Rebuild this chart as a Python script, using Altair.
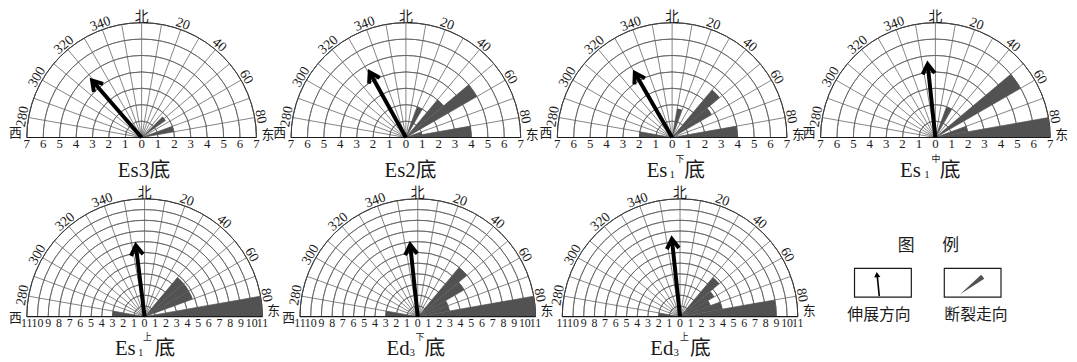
import altair as alt
import pandas as pd

# ---------------- data ----------------
panel_main = ["Es3", "Es2", "Es", "Es", "Es", "Ed", "Ed"]
panel_sub = ["", "", "1", "1", "1", "3", "3"]
panel_sup = ["", "", "下", "中", "上", "下", "上"]
panel_suffix = ["底", "底", "底", "底", "底", "底", "底"]
max_radius = [7, 7, 7, 7, 11, 11, 11]

# extension direction (azimuth, length in scale units)
arrow_az = [319, 331, 330, 354, 353, 354, 354]
arrow_len = [4.6, 4.55, 4.55, 4.5, 6.7, 6.75, 7.3]

# fault strike rose petals: start azimuth of each 10-degree bin and its count
BIN = 10
petal_az = [
    [45, 70],
    [20, 40, 50, 70, 80],
    [270, 10, 40, 50, 80],
    [20, 50, 70, 80],
    [270, 40, 50, 60, 80],
    [270, 40, 50, 60, 70, 80],
    [270, 40, 50, 60, 70, 80],
]
petal_len = [
    [1.8, 2.0],
    [2.0, 3.0, 5.0, 1.0, 4.0],
    [2.0, 1.8, 3.8, 2.8, 4.0],
    [2.0, 6.0, 2.0, 7.0],
    [3.0, 4.8, 4.8, 4.8, 11.0],
    [3.0, 6.0, 5.0, 3.0, 3.0, 11.0],
    [2.0, 4.8, 3.7, 3.0, 4.0, 9.0],
]

direction_az = [280, 300, 320, 340, 0, 20, 40, 60, 80]
direction_label = ["280", "300", "320", "340", "北", "20", "40", "60", "80"]
side_label = ["西", "东"]
# side labels visible in each panel (the 西 of the last panel is hidden under the 东 of its neighbour)
side_shown = [[1, 1], [1, 1], [1, 1], [1, 1], [1, 1], [1, 1], [0, 1]]
legend_title = ["图", "例"]
legend_label = ["伸展方向", "断裂走向"]

# ---------------- style / layout ----------------
SERIF = "Liberation Serif, Noto Sans CJK SC"
CJK = "Noto Sans CJK SC"
GRID = "#5c5c5c"
PETAL = "#525252"
INK = "#1a1a1a"
HEAD = "M -0.6 0.96 L 0 0 L 0.6 0.96"

TITLE_DX = [
    [-24, 8], [-21.5, 10],
    [-25.7, -2.7, 3.3, 12.3], [-35.7, -11.3, -4, 4.3],
    [-30, -6.7, -1.7, 10], [-31.6, -8.3, -2.3, 6.7], [-30, -6.7, 0, 10],
]

EDGES = [0, 265, 533, 800, 1068]
ROWS = [
    dict(panels=[0, 1, 2, 3], centers=[131, 398, 667, 933],
         H=176, base=129, rpx=116, tick_fs=13, title_y=169, side_up=[5, 2], legend=False),
    dict(panels=[4, 5, 6], centers=[134, 410, 675],
         H=178, base=134, rpx=119, tick_fs=12, title_y=173, side_up=[-1, 6], legend=True),
]


def panel(i, W, cx, H, base, rpx, tick_fs, title_y, side_up):
    R = max_radius[i]
    u = rpx / R
    xs = alt.Scale(domain=[-cx / u, (W - cx) / u], nice=False, zero=False)
    ys = alt.Scale(domain=[-(H - base) / u, base / u], nice=False, zero=False)
    rs = alt.Scale(type="linear", domain=[0, R], range=[0, rpx], zero=True)

    def X(f):
        return alt.X(f, type="quantitative", scale=xs, axis=None)

    def Y(f):
        return alt.Y(f, type="quantitative", scale=ys, axis=None)

    cX = alt.XDatum(0, type="quantitative", scale=xs, axis=None)
    cY = alt.YDatum(0, type="quantitative", scale=ys, axis=None)

    rings = alt.Chart(pd.DataFrame({"r": list(range(1, R))})).transform_calculate(
        t0="1.5*PI", t1="2.5*PI"
    ).mark_arc(filled=False, stroke=GRID, strokeWidth=0.75).encode(
        x=cX, y=cY,
        theta=alt.Theta("t0:Q", scale=None, stack=False), theta2=alt.Theta2("t1"),
        radius=alt.Radius("r:Q", scale=rs), radius2=alt.Radius2("r"),
    )
    outer = alt.Chart(pd.DataFrame({"r": [R]})).transform_calculate(
        t0="1.5*PI", t1="2.5*PI"
    ).mark_arc(filled=False, stroke="#3e3e3e", strokeWidth=1.0).encode(
        x=cX, y=cY,
        theta=alt.Theta("t0:Q", scale=None, stack=False), theta2=alt.Theta2("t1"),
        radius=alt.Radius("r:Q", scale=rs), radius2=alt.Radius2("r"),
    )
    spokes = alt.Chart(pd.DataFrame({"a": list(range(-80, 90, 10))})).transform_calculate(
        x0="0", y0="0",
        x1=f"{R}*sin(datum.a*PI/180)", y1=f"{R}*cos(datum.a*PI/180)",
    ).mark_rule(stroke=GRID, strokeWidth=0.75).encode(
        x=X("x0"), y=Y("y0"), x2=alt.X2("x1"), y2=alt.Y2("y1")
    )
    base_line = alt.Chart(pd.DataFrame({"a": [-R], "b": [R], "y": [0]})).mark_rule(
        stroke=INK, strokeWidth=1.1
    ).encode(x=X("a"), x2=alt.X2("b"), y=Y("y"))

    petals = alt.Chart(pd.DataFrame({"az": petal_az[i], "n": petal_len[i]})).transform_calculate(
        t0="datum.az*PI/180", t1=f"(datum.az+{BIN})*PI/180"
    ).mark_arc(color=PETAL).encode(
        x=cX, y=cY,
        theta=alt.Theta("t0:Q", scale=None, stack=False), theta2=alt.Theta2("t1"),
        radius=alt.Radius("n:Q", scale=rs),
    )

    arr = alt.Chart(pd.DataFrame({"az": [arrow_az[i]], "n": [arrow_len[i]]})).transform_calculate(
        x0="0", y0="0",
        tx="datum.n*sin(datum.az*PI/180)", ty="datum.n*cos(datum.az*PI/180)",
    )
    shaft = arr.mark_rule(color="black", strokeWidth=4).encode(
        x=X("x0"), y=Y("y0"), x2=alt.X2("tx"), y2=alt.Y2("ty")
    )
    head = arr.mark_point(
        shape=HEAD, size=420, filled=False, stroke="black", strokeWidth=4,
        opacity=1, strokeJoin="miter",
    ).encode(x=X("tx"), y=Y("ty"), angle=alt.Angle("az:Q", scale=None))

    rl = R + 2.0 / u
    dirs = alt.Chart(pd.DataFrame({"az": direction_az, "t": direction_label})).transform_calculate(
        lx=f"{rl}*sin(datum.az*PI/180)", ly=f"{rl}*cos(datum.az*PI/180)"
    ).mark_text(font=SERIF, fontSize=14, baseline="alphabetic", align="center", color=INK).encode(
        x=X("lx"), y=Y("ly"), text="t:N", angle=alt.Angle("az:Q", scale=None)
    )

    ticks = alt.Chart(pd.DataFrame({"k": list(range(-R, R + 1))})).transform_calculate(
        lab="toString(abs(datum.k))", y0="0"
    ).mark_text(font=SERIF, fontSize=tick_fs, baseline="top", align="center", dy=1, color=INK).encode(
        x=X("k"), y=Y("y0"), text="lab:N"
    )

    sdf = pd.DataFrame({"t": side_label, "s": [-1, 1], "up": side_up, "show": side_shown[i]})
    sides = alt.Chart(sdf).transform_filter("datum.show == 1").transform_calculate(
        sx=f"datum.s*({R}+{11.5 / u})", sy=f"datum.up/{u}"
    ).mark_text(font=CJK, fontSize=13, baseline="middle", align="center", color=INK).encode(
        x=X("sx"), y=Y("sy"), text="t:N"
    )

    parts = [(panel_main[i], 21, 0), (panel_sub[i], 11, -1), (panel_sup[i], 9, 15), (panel_suffix[i], 21, 0)]
    parts = [p for p in parts if p[0]]
    tdf = pd.DataFrame({
        "t": [p[0] for p in parts],
        "fs": [p[1] for p in parts],
        "up": [p[2] for p in parts],
        "dx": TITLE_DX[i],
    })
    title = alt.Chart(tdf).transform_calculate(
        tx=f"datum.dx/{u}", ty=f"({base - title_y}+datum.up)/{u}"
    ).mark_text(font=SERIF, align="left", baseline="alphabetic", color=INK).encode(
        x=X("tx"), y=Y("ty"), text="t:N", size=alt.Size("fs:Q", scale=None)
    )

    return alt.layer(
        rings, outer, spokes, petals, base_line, shaft, head, dirs, ticks, sides, title
    ).properties(width=W, height=H)


def legend_panel(W, H):
    xs = alt.Scale(domain=[0, W], nice=False, zero=False)
    ys = alt.Scale(domain=[0, H], reverse=True, nice=False, zero=False)

    def X(f):
        return alt.X(f, type="quantitative", scale=xs, axis=None)

    def Y(f):
        return alt.Y(f, type="quantitative", scale=ys, axis=None)

    heads = alt.Chart(pd.DataFrame({"t": legend_title, "x": [103.5, 148.5], "y": [62.5, 62.5]})).mark_text(
        font=CJK, fontSize=17, baseline="middle", align="center", color=INK
    ).encode(x=X("x"), y=Y("y"), text="t:N")
    boxes = alt.Chart(pd.DataFrame({"x": [51.3, 142.0], "x2": [108.7, 199.3], "y": [85.3, 85.3], "y2": [114.3, 114.3]})).mark_rect(
        filled=False, stroke=INK, strokeWidth=1.2
    ).encode(x=X("x"), x2=alt.X2("x2"), y=Y("y"), y2=alt.Y2("y2"))
    shaft = alt.Chart(pd.DataFrame({"x": [76.3], "y": [113.3], "x2": [74.2], "y2": [92.0]})).mark_rule(
        color="black", strokeWidth=1.6
    ).encode(x=X("x"), y=Y("y"), x2=alt.X2("x2"), y2=alt.Y2("y2"))
    tip = alt.Chart(pd.DataFrame({"x": [74.0], "y": [91.5]})).mark_point(
        shape="triangle-up", size=40, filled=True, color="black", opacity=1, angle=354
    ).encode(x=X("x"), y=Y("y"))
    wedge = alt.Chart(pd.DataFrame({"x": [158.0], "y": [111.5]})).mark_arc(color=PETAL).encode(
        x=X("x"), y=Y("y"), theta=alt.value(0.82), theta2=alt.value(1.0), radius=alt.value(29)
    )
    labels = alt.Chart(pd.DataFrame({"t": legend_label, "x": [76.0, 174.0], "y": [132.0, 132.0]})).mark_text(
        font=CJK, fontSize=16, baseline="middle", align="center", color=INK
    ).encode(x=X("x"), y=Y("y"), text="t:N")
    return alt.layer(heads, boxes, shaft, tip, wedge, labels).properties(width=W, height=H)


cells = []
for row in ROWS:
    for j, i in enumerate(row["panels"]):
        L, Rt = EDGES[j], EDGES[j + 1]
        cells.append(panel(i, Rt - L, row["centers"][j] - L, row["H"], row["base"], row["rpx"],
                           row["tick_fs"], row["title_y"], row["side_up"]))
    if row["legend"]:
        cells.append(legend_panel(EDGES[4] - EDGES[3], row["H"]))

chart = alt.concat(*cells, columns=4, spacing=0, bounds="flush").properties(
    padding=0
).configure_view(strokeWidth=0)
chart.save("out.html", embed_options={"renderer": "svg", "actions": False})
